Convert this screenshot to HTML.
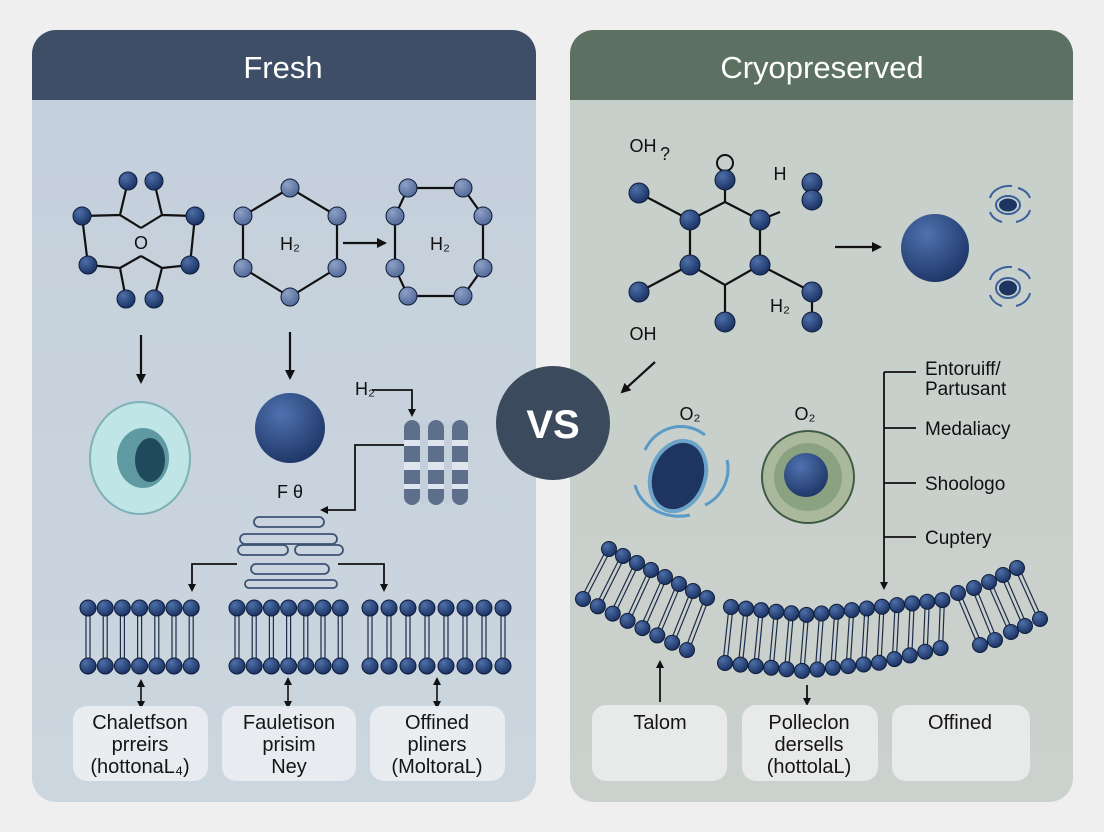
<!DOCTYPE html>
<html><head><meta charset="utf-8"><style>
html,body{margin:0;padding:0;background:#efefef;}
svg{display:block;font-family:"Liberation Sans",sans-serif;}
</style></head><body>
<svg id="s" width="1104" height="832" viewBox="0 0 1104 832" xmlns="http://www.w3.org/2000/svg">
<defs>
<linearGradient id="lb" x1="0" y1="0" x2="0" y2="1"><stop offset="0" stop-color="#c3cfdb"/><stop offset="1" stop-color="#ccd6df"/></linearGradient>
<linearGradient id="rb" x1="0" y1="0" x2="0" y2="1"><stop offset="0" stop-color="#c6cfca"/><stop offset="1" stop-color="#cbd1cd"/></linearGradient>
<radialGradient id="ball" cx="0.35" cy="0.3" r="0.7"><stop offset="0" stop-color="#4d6fa8"/><stop offset="1" stop-color="#1c3466"/></radialGradient>
<radialGradient id="lball" cx="0.35" cy="0.3" r="0.7"><stop offset="0" stop-color="#8ea0c6"/><stop offset="1" stop-color="#546b9a"/></radialGradient>
<radialGradient id="big" cx="0.38" cy="0.3" r="0.75"><stop offset="0" stop-color="#4f72b0"/><stop offset="1" stop-color="#1d3464"/></radialGradient>
<marker id="ah" markerWidth="8" markerHeight="8" refX="6" refY="4" orient="auto" markerUnits="userSpaceOnUse"><path d="M0,0 L8,4 L0,8 z" fill="#111"/></marker>
<marker id="as" markerWidth="10" markerHeight="10" refX="8" refY="5" orient="auto" markerUnits="userSpaceOnUse"><path d="M0,0 L10,5 L0,10 z" fill="#111"/></marker>
<marker id="ab" markerWidth="8" markerHeight="8" refX="2" refY="4" orient="auto-start-reverse" markerUnits="userSpaceOnUse"><path d="M0,0 L8,4 L0,8 z" fill="#111"/></marker>
</defs>
<rect x="32" y="30" width="504" height="772" rx="24" fill="url(#lb)"/>
<path d="M32,100 V54 a24,24 0 0 1 24,-24 H512 a24,24 0 0 1 24,24 V100 z" fill="#3e4e66"/>
<text x="283" y="78" fill="#fff" font-size="31" text-anchor="middle">Fresh</text>
<rect x="570" y="30" width="503" height="772" rx="24" fill="url(#rb)"/>
<path d="M570,100 V54 a24,24 0 0 1 24,-24 H1049 a24,24 0 0 1 24,24 V100 z" fill="#5d7163"/>
<text x="822" y="78" fill="#fff" font-size="31" text-anchor="middle">Cryopreserved</text>

<g stroke="#111" stroke-width="2.2" fill="none">
<path d="M128,181 L120,215 L141,228 M154,181 L162,215 L141,228 M82,216 L120,215 M195,216 L162,215 M82,216 L88,265 M195,216 L190,265 M88,265 L120,268 L141,256 M190,265 L162,268 L141,256 M126,299 L120,268 M154,299 L162,268"/>
<path d="M290,188 L243,216 L243,268 L290,297 L337,268 L337,216 Z"/>
<path d="M408,188 L395,216 L395,268 L408,296 M463,188 L483,216 L483,268 L463,296 M408,188 L463,188 M408,296 L463,296"/>
<line x1="343" y1="243" x2="385" y2="243" marker-end="url(#as)"/>
<line x1="141" y1="335" x2="141" y2="382" marker-end="url(#as)"/>
<line x1="290" y1="332" x2="290" y2="378" marker-end="url(#as)"/>
<path d="M372,390 H412 V415" stroke-width="1.8" marker-end="url(#ah)"/>
<path d="M408,445 H355 V510 H322" stroke-width="1.8" marker-end="url(#ah)"/>
<path d="M237,564 H192 V590" stroke-width="1.8" marker-end="url(#ah)"/>
<path d="M338,564 H384 V590" stroke-width="1.8" marker-end="url(#ah)"/>
<line x1="141" y1="685" x2="141" y2="703" stroke-width="1.6" marker-start="url(#ab)" marker-end="url(#ab)"/>
<line x1="288" y1="683" x2="288" y2="703" stroke-width="1.6" marker-start="url(#ab)" marker-end="url(#ab)"/>
<line x1="437" y1="683" x2="437" y2="703" stroke-width="1.6" marker-start="url(#ab)" marker-end="url(#ab)"/>
<path d="M725,202 L760,220 L760,265 L725,285 L690,265 L690,220 Z M639,193 L690,220 M725,180 L725,202 M760,220 L780,212 M760,265 L812,292 M725,285 L725,322 M690,265 L639,292 M812,292 L812,322"/>
<line x1="835" y1="247" x2="880" y2="247" marker-end="url(#as)"/>
<line x1="655" y1="362" x2="622" y2="392" marker-end="url(#as)"/>
<path d="M884,372 V588" stroke-width="1.8" marker-end="url(#ah)"/>
<path d="M884,372 H916 M884,428 H916 M884,483 H916 M884,537 H916" stroke-width="1.8"/>
<line x1="660" y1="702" x2="660" y2="662" stroke-width="1.8" marker-end="url(#ah)"/>
<line x1="807" y1="685" x2="807" y2="704" stroke-width="1.8" marker-end="url(#ah)"/>
</g>
<circle cx="725" cy="163" r="8" fill="none" stroke="#111" stroke-width="2"/>

<g id="balls"></g>

<g fill="#111" font-size="18" text-anchor="middle">
<text x="141" y="249">O</text>
<text x="290" y="250">H₂</text>
<text x="440" y="250">H₂</text>
<text x="365" y="395">H₂</text>
<text x="290" y="498">F θ</text>
<text x="643" y="152">OH</text><text x="665" y="160">?</text>
<text x="780" y="180">H</text>
<text x="780" y="312">H₂</text>
<text x="643" y="340">OH</text>
<text x="690" y="420">O₂</text>
<text x="805" y="420">O₂</text>
</g>
<g fill="#111" font-size="19">
<text x="925" y="375">Entoruiff/</text><text x="925" y="395">Partusant</text>
<text x="925" y="435">Medaliacy</text>
<text x="925" y="490">Shoologo</text>
<text x="925" y="544">Cuptery</text>
</g>

<ellipse cx="140" cy="458" rx="50" ry="56" fill="#bfe5e7" stroke="#7fb1b8" stroke-width="2"/>
<ellipse cx="143" cy="458" rx="26" ry="30" fill="#5f9aa3"/>
<ellipse cx="150" cy="460" rx="15" ry="22" fill="#1f4a5b"/>
<circle cx="290" cy="428" r="35" fill="url(#big)"/>
<g>
<rect x="404" y="420" width="16" height="85" rx="8" fill="#5d6f8a"/>
<rect x="428" y="420" width="16" height="85" rx="8" fill="#5d6f8a"/>
<rect x="452" y="420" width="16" height="85" rx="8" fill="#5d6f8a"/>
<g fill="#dfe5ee"><rect x="404" y="440" width="64" height="6"/><rect x="404" y="462" width="64" height="8"/><rect x="404" y="484" width="64" height="5"/></g>
<g fill="none" stroke="#c3cfdb" stroke-width="8"><line x1="424" y1="420" x2="424" y2="505"/><line x1="448" y1="420" x2="448" y2="505"/></g>
</g>
<g fill="none" stroke="#3d5375" stroke-width="1.8">
<rect x="254" y="517" width="70" height="10" rx="5"/>
<rect x="240" y="534" width="97" height="10" rx="5"/>
<rect x="238" y="545" width="50" height="10" rx="5"/>
<rect x="295" y="545" width="48" height="10" rx="5"/>
<rect x="251" y="564" width="78" height="10" rx="5"/>
<rect x="245" y="580" width="92" height="8" rx="4"/>
</g>
<circle cx="935" cy="248" r="34" fill="url(#big)"/>
<g fill="none" stroke="#3b5f9a" stroke-width="2">
<ellipse cx="1008" cy="205" rx="12" ry="9"/>
<path d="M990,198 a20,15 0 0 1 22,-12 M1018,188 a20,15 0 0 1 12,10 M1030,210 a20,15 0 0 1 -14,12 M1002,222 a20,15 0 0 1 -12,-10"/>
<ellipse cx="1008" cy="288" rx="12" ry="10"/>
<path d="M990,280 a20,16 0 0 1 22,-13 M1018,269 a20,16 0 0 1 12,10 M1030,293 a20,16 0 0 1 -14,13 M1002,306 a20,16 0 0 1 -12,-11"/>
</g>
<ellipse cx="1008" cy="205" rx="9" ry="6.5" fill="#1f3561"/>
<ellipse cx="1008" cy="288" rx="9" ry="7.5" fill="#1f3561"/>
<g fill="none" stroke="#5a9ac7" stroke-width="3">
<path d="M645,450 a40,42 0 0 1 60,-15"/><path d="M635,485 a45,40 0 0 0 55,30"/><path d="M705,505 a40,40 0 0 0 22,-45"/>
</g>
<ellipse cx="678" cy="476" rx="27" ry="36" fill="#1f3561" stroke="#6ba3c9" stroke-width="4" transform="rotate(20 678 476)"/>
<circle cx="808" cy="477" r="46" fill="#aab89c" stroke="#3e5b45" stroke-width="2"/>
<circle cx="808" cy="477" r="34" fill="#8aa280"/>
<circle cx="806" cy="475" r="22" fill="url(#big)"/>

<circle cx="553" cy="423" r="57" fill="#3c4a5e"/>
<text x="553" y="438" fill="#fff" font-size="40" font-weight="bold" text-anchor="middle">VS</text>

<g fill="#eceff2" opacity="0.9">
<rect x="73" y="706" width="135" height="75" rx="14"/>
<rect x="222" y="706" width="134" height="75" rx="14"/>
<rect x="370" y="706" width="135" height="75" rx="14"/>
</g>
<g fill="#e7eae8">
<rect x="592" y="705" width="135" height="76" rx="14"/>
<rect x="742" y="705" width="136" height="76" rx="14"/>
<rect x="892" y="705" width="138" height="76" rx="14"/>
</g>
<g fill="#151515" font-size="20" text-anchor="middle">
<text x="140" y="729">Chaletfson</text><text x="140" y="751">prreirs</text><text x="140" y="773">(hottonaL₄)</text>
<text x="289" y="729">Fauletison</text><text x="289" y="751">prisim</text><text x="289" y="773">Ney</text>
<text x="437" y="729">Offined</text><text x="437" y="751">pliners</text><text x="437" y="773">(MoltoraL)</text>
<text x="660" y="729">Talom</text>
<text x="809" y="729">Polleclon</text><text x="809" y="751">dersells</text><text x="809" y="773">(hottolaL)</text>
<text x="960" y="729">Offined</text>
</g>
</svg>
<script>
var g=document.getElementById('balls'),h='';
function b(x,y,r,f){h+='<circle cx="'+x+'" cy="'+y+'" r="'+r+'" fill="url(#'+(f||'ball')+')" stroke="#0f1d3a" stroke-width="1"/>';}
function ln(x1,y1,x2,y2){h+='<line x1="'+x1+'" y1="'+y1+'" x2="'+x2+'" y2="'+y2+'" stroke="#1c2c4a" stroke-width="1.2"/>';}
function pair(t,bo,r){ // t:[x,y], bo:[x,y]
 var dx=bo[0]-t[0],dy=bo[1]-t[1],L=Math.hypot(dx,dy),ux=dx/L,uy=dy/L,px=-uy*2,py=ux*2;
 ln(t[0]+px+ux*6,t[1]+py+uy*6,bo[0]+px-ux*6,bo[1]+py-uy*6);
 ln(t[0]-px+ux*6,t[1]-py+uy*6,bo[0]-px-ux*6,bo[1]-py-uy*6);
}
[[128,181],[154,181],[82,216],[195,216],[88,265],[190,265],[126,299],[154,299]].forEach(p=>b(p[0],p[1],9));
[[290,188],[243,216],[243,268],[290,297],[337,268],[337,216]].forEach(p=>b(p[0],p[1],9,'lball'));
[[408,188],[463,188],[395,216],[483,216],[395,268],[483,268],[408,296],[463,296]].forEach(p=>b(p[0],p[1],9,'lball'));
[[639,193],[725,180],[690,220],[760,220],[690,265],[760,265],[725,322],[639,292],[812,183],[812,200],[812,292],[812,322]].forEach(p=>b(p[0],p[1],10));
function mem(x0,n,sp){for(var i=0;i<n;i++){var x=x0+i*sp;ln(x-2,614,x-2,660);ln(x+2,614,x+2,660);}for(var i=0;i<n;i++){var x=x0+i*sp;b(x,608,8);b(x,666,8);}}
mem(88,7,17.2);mem(237,7,17.2);mem(370,8,19);
var T=[],B=[];
// left curved membrane
for(var i=0;i<8;i++){var t=i/7;T.push([609+t*98,549+t*49]);B.push([583+t*104,599+t*51]);}
// right main membrane
function ty(x){return x<808?607+(x-731)*8/77:615-(x-808)*15/135;}
for(var i=0;i<15;i++){var x=731+i*15.1;var y=ty(x);T.push([x,y]);B.push([x-6+i*0.3,y+56-(i>10?(i-10)*2:0)]);}
[[958,593,980,645],[974,588,995,640],[989,582,1011,632],[1003,575,1025,626],[1017,568,1040,619]].forEach(q=>{T.push([q[0],q[1]]);B.push([q[2],q[3]]);});
for(var i=0;i<T.length;i++)pair(T[i],B[i]);
for(var i=0;i<T.length;i++){b(T[i][0],T[i][1],7.5);b(B[i][0],B[i][1],7.5);}
g.innerHTML=h;
</script>
</body></html>
